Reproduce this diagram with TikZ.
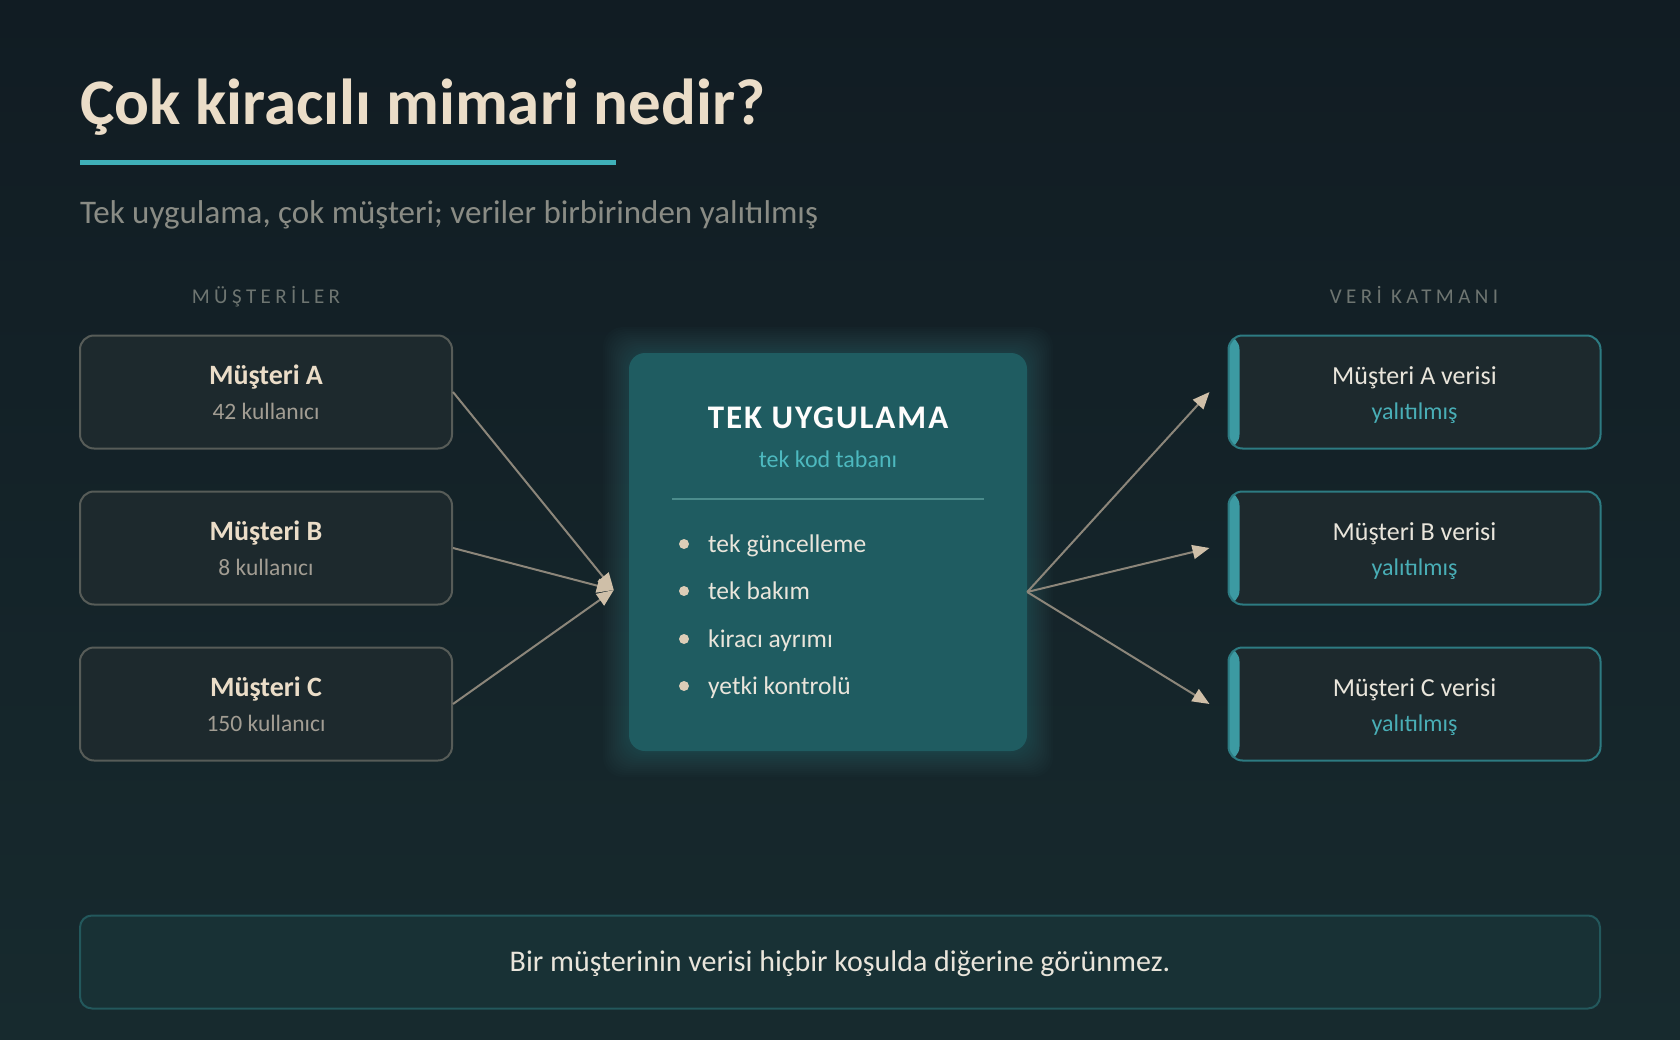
\documentclass[tikz,border=0pt]{standalone}
\usepackage{fontspec}
\setmainfont{Carlito}
\newfontfamily\trackfont[LetterSpace=21]{Carlito}
\newfontfamily\headfont[LetterSpace=6]{Carlito}
\usetikzlibrary{arrows.meta,calc,positioning}

\definecolor{bgtop}{HTML}{111C23}
\definecolor{bgbot}{HTML}{172A2E}
\definecolor{cream}{HTML}{EBDDC8}
\definecolor{tealbar}{HTML}{3FB0B9}
\definecolor{muted}{HTML}{8A8C85}
\definecolor{labelc}{HTML}{6E7571}
\definecolor{boxfill}{HTML}{1D292D}
\definecolor{boxline}{HTML}{575C58}
\definecolor{subgrey}{HTML}{A29D93}
\definecolor{appfill}{HTML}{1F5C61}
\definecolor{applight}{HTML}{4DB9BF}
\definecolor{appline}{HTML}{4B8C8C}
\definecolor{itemc}{HTML}{E9E5DB}
\definecolor{dotc}{HTML}{DCCDB7}
\definecolor{dataline}{HTML}{2D7B82}
\definecolor{dataedge}{HTML}{3C9AA2}
\definecolor{isoc}{HTML}{49AEB6}
\definecolor{wirec}{HTML}{8C867A}
\definecolor{tipc}{HTML}{CFBFA8}
\definecolor{notefill}{HTML}{183135}
\definecolor{noteline}{HTML}{23585C}

\begin{document}
\begin{tikzpicture}[x=1pt,y=-1pt,>={Triangle[length=17pt,width=14pt,fill=tipc,color=tipc]}]
    \def\boxw{372pt}
    \def\boxh{113pt}
    \tikzstyle{every node}=[inner sep=0pt,text=cream]
    \tikzstyle{client}=[draw=boxline,fill=boxfill,line width=2pt,rounded corners=14pt,minimum width=\boxw,minimum height=\boxh]
    \tikzstyle{datanode}=[client,draw=dataline,path picture={\fill[dataedge] (path picture bounding box.north west) rectangle ([xshift=11pt]path picture bounding box.south west);}]
    \tikzstyle{link}=[->,draw=wirec,line width=2pt]
    \tikzstyle{boxtitle}=[anchor=base,font=\fontsize{28}{33}\selectfont\bfseries]
    \tikzstyle{boxsub}=[anchor=base,font=\fontsize{23.5}{28}\selectfont,text=subgrey]
    \tikzstyle{sectionlabel}=[anchor=base,font=\trackfont\fontsize{21}{25}\selectfont,text=labelc]
    \tikzstyle{listitem}=[anchor=base west,font=\fontsize{25.5}{30}\selectfont,text=itemc]

    % Background and page size
    \shade[top color=bgtop,bottom color=bgbot] (0,0) rectangle (1680,1040);
    \useasboundingbox (0,0) rectangle (1680,1040);

    % Title, bar and subtitle
    \node[anchor=base west,font=\fontsize{65}{72}\selectfont\bfseries] (title) at (80,125) {Çok kiracılı mimari nedir?};
    \fill[tealbar] (80,160.5) rectangle (616,165.5);
    \node[anchor=base west,font=\fontsize{33}{38}\selectfont,text=muted] (subtitle) at (80,224) {Tek uygulama, çok müşteri; veriler birbirinden yalıtılmış};

    % Column labels
    \node[sectionlabel] (clients) at (266,304) {MÜŞTERİLER};
    \node[sectionlabel] (datalayer) at (1414,304) {VERİ KATMANI};

    % Glow behind the application box
    \foreach \g in {2,4,...,26}
        \fill[applight,opacity=0.018,rounded corners=20pt] ({629-\g},{353-\g}) rectangle ({1027+\g},{751+\g});

    % Draw the application box
    \node[fill=appfill,rounded corners=16pt,minimum width=398pt,minimum height=398pt] (U) at (828,552) {};
    \node[anchor=base,font=\headfont\bfseries\fontsize{33}{38}\selectfont,text=white!94!cream] (U-title) at (828,428) {TEK UYGULAMA};
    \node[anchor=base,font=\fontsize{24}{28}\selectfont,text=applight] (U-sub) at (828,467) {tek kod tabanı};
    \draw[appline,line width=2pt] (672,499) -- (984,499);
    \foreach \y/\what in {552/tek güncelleme,599/tek bakım,647/kiracı ayrımı,694/yetki kontrolü}{
        \fill[dotc] (684,{\y-8}) circle (5pt);
        \node[listitem] at (708,\y) {\what};
    }

    % Draw the client boxes and the data boxes
    \foreach \name/\who/\n in {1/A/42,2/B/8,3/C/150}{
        \node[client] (M-\name) at (266,{392+156*(\name-1)}) {};
        \node[boxtitle] at ($(M-\name)+(0,-8)$) {Müşteri \who};
        \node[boxsub] at ($(M-\name)+(0,27)$) {\n\ kullanıcı};
        \node[datanode] (V-\name) at (1414.5,{392+156*(\name-1)}) {};
        \node[anchor=base,font=\fontsize{26}{30}\selectfont,text=itemc] at ($(V-\name)+(0,-8)$) {Müşteri \who\ verisi};
        \node[anchor=base,font=\fontsize{24}{28}\selectfont,text=isoc] at ($(V-\name)+(0,27)$) {yalıtılmış};
    }

    % Connect clients to the application, the application to the data
    \coordinate (U-in) at ($(U.west)+(-15,38)$);
    \coordinate (U-out) at ($(U.east)+(0,40)$);
    \foreach \name in {1,2,3}{
        \draw[link] (M-\name.east) -- (U-in);
        \draw[link] (U-out) -- ([xshift=-18pt]V-\name.west);
    }

    % Note at the bottom
    \node[fill=notefill,draw=noteline,line width=2pt,rounded corners=12pt,minimum width=1520pt,minimum height=93pt] (note) at (840,962) {};
    \node[anchor=base,font=\fontsize{30}{35}\selectfont,text=itemc] (note-text) at (840,971) {Bir müşterinin verisi hiçbir koşulda diğerine görünmez.};
\end{tikzpicture}
\end{document}
